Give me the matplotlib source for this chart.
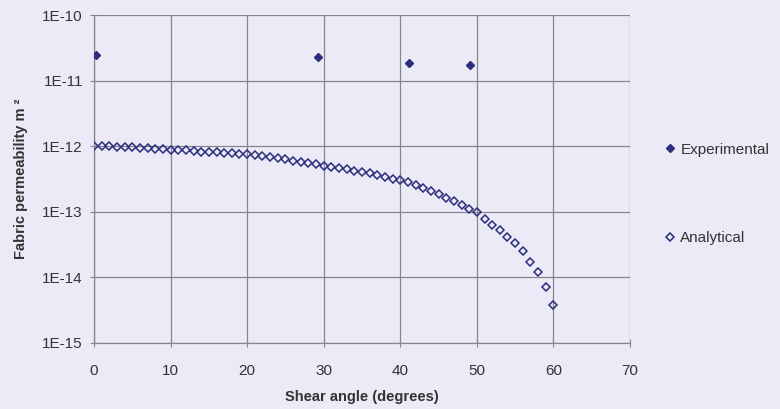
import matplotlib
matplotlib.use("Agg")
import matplotlib.pyplot as plt
from matplotlib.ticker import FixedLocator, NullLocator

plt.rcParams['font.family'] = ['Liberation Sans', 'DejaVu Sans']

# Experimental data
exp_angle = [0.3, 29.2, 41.1, 49.1]
exp_perm = [2.45e-11, 2.3e-11, 1.83e-11, 1.75e-11]

# Analytical data (angle in degrees, permeability in units of 1e-13 m^2)
ana_angle = list(range(0, 61))
ana_perm_e13 = [10.0, 9.95, 9.9, 9.8, 9.7, 9.6, 9.5, 9.35, 9.2, 9.0,
                8.8, 8.7, 8.6, 8.45, 8.3, 8.2, 8.05, 7.95, 7.8, 7.7,
                7.55, 7.3, 7.05, 6.8, 6.55, 6.3, 6.05, 5.8, 5.55, 5.3,
                5.05, 4.85, 4.65, 4.45, 4.25, 4.05, 3.85, 3.65, 3.45, 3.2,
                3.0, 2.8, 2.55, 2.3, 2.1, 1.85, 1.65, 1.45, 1.28, 1.12,
                0.98, 0.78, 0.63, 0.52, 0.42, 0.33, 0.25, 0.17, 0.12, 0.072,
                0.038]
ana_perm = [v * 1e-13 for v in ana_perm_e13]

x_ticks = [0, 10, 20, 30, 40, 50, 60, 70]
y_ticks = [1e-15, 1e-14, 1e-13, 1e-12, 1e-11, 1e-10]
y_ticklabels = ["1E-15", "1E-14", "1E-13", "1E-12", "1E-11", "1E-10"]

bg = "#eceaf6"
navy = "#2a2e7c"
grid_c = "#85858e"

fig = plt.figure(figsize=(7.8, 4.09), dpi=100, facecolor=bg)
ax = fig.add_axes([0.1205, 0.1614, 0.6872, 0.8019], facecolor=bg)

ax.plot(exp_angle, exp_perm, linestyle="none", marker="D", markersize=4.2,
        color=navy, markeredgecolor=navy, label="Experimental", zorder=3)
ax.plot(ana_angle, ana_perm, linestyle="none", marker="D", markersize=4.2,
        markerfacecolor="none", markeredgecolor=navy, markeredgewidth=1.1,
        label="Analytical", zorder=3)

ax.set_yscale("log")
ax.set_xlim(0, 70)
ax.set_ylim(1e-15, 1e-10)
ax.xaxis.set_major_locator(FixedLocator(x_ticks))
ax.yaxis.set_major_locator(FixedLocator(y_ticks))
ax.yaxis.set_minor_locator(NullLocator())
ax.set_yticklabels(y_ticklabels)
ax.grid(True, color=grid_c, linewidth=0.9)
for s in ["top", "right"]:
    ax.spines[s].set_visible(False)
for s in ["left", "bottom"]:
    ax.spines[s].set_color(grid_c)
    ax.spines[s].set_linewidth(0.9)
ax.tick_params(axis="both", direction="inout", length=6, color=grid_c,
               labelsize=11, labelcolor="#333333", pad=5)
ax.tick_params(axis="x", pad=12)

ax.set_xlabel("Shear angle (degrees)", fontsize=10.5, fontweight="bold",
              color="#333333", labelpad=9)
ax.set_ylabel("Fabric permeability m ²", fontsize=10.5, fontweight="bold",
              color="#333333", labelpad=10)

leg = ax.legend(loc="upper left", bbox_to_anchor=(0.835, 0.685),
                bbox_transform=fig.transFigure, frameon=False,
                fontsize=11, labelspacing=4.9, handlelength=0.6,
                handletextpad=0.4, markerscale=1.0)
for t in leg.get_texts():
    t.set_color("#333333")

fig.savefig("out.png", dpi=100, facecolor=bg)
